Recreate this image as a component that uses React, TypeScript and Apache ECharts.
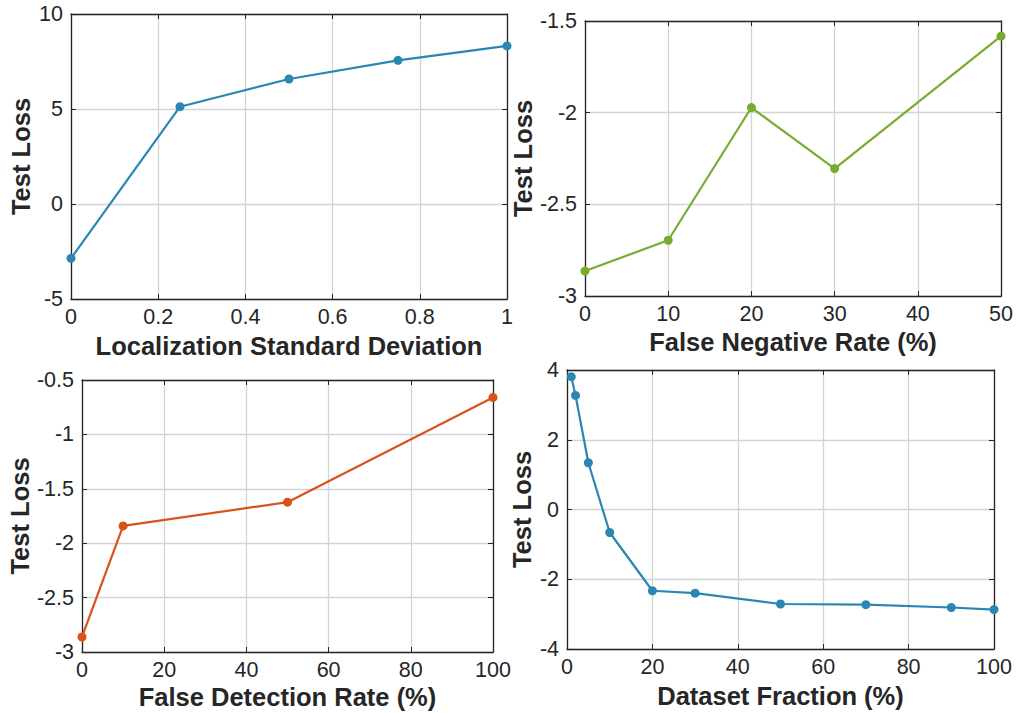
import React, { useEffect, useRef } from "react";
import * as echarts from "echarts";

// Panel 1: Localization Standard Deviation
const locStd = [0, 0.25, 0.5, 0.75, 1];
const locLoss = [-2.86, 5.12, 6.58, 7.56, 8.32];

// Panel 2: False Negative Rate (%)
const fnRate = [0, 10, 20, 30, 50];
const fnLoss = [-2.864, -2.696, -1.972, -2.305, -1.583];

// Panel 3: False Detection Rate (%)
const fdRate = [0, 10, 50, 100];
const fdLoss = [-2.862, -1.841, -1.623, -0.66];

// Panel 4: Dataset Fraction (%)
const dsFrac = [1, 2, 5, 10, 20, 30, 50, 70, 90, 100];
const dsLoss = [3.81, 3.27, 1.34, -0.66, -2.33, -2.4, -2.71, -2.73, -2.81, -2.87];

const xTitles = [
  "Localization Standard Deviation",
  "False Negative Rate (%)",
  "False Detection Rate (%)",
  "Dataset Fraction (%)",
];
const yTitle = "Test Loss";

const xRanges = [
  { min: 0, max: 1, interval: 0.2 },
  { min: 0, max: 50, interval: 10 },
  { min: 0, max: 100, interval: 20 },
  { min: 0, max: 100, interval: 20 },
];
const yRanges = [
  { min: -5, max: 10, interval: 5 },
  { min: -3, max: -1.5, interval: 0.5 },
  { min: -3, max: -0.5, interval: 0.5 },
  { min: -4, max: 4, interval: 2 },
];

const COLORS = ["#2a87b3", "#77ac30", "#d95319", "#2a87b3"];
const FONT = "'Liberation Sans', Arial, Helvetica, sans-serif";
const TEXT = "#262626";

export default function App() {
  const ref = useRef<HTMLDivElement>(null);
  useEffect(() => {
    if (!ref.current) return;
    const chart = echarts.init(ref.current, undefined, { renderer: "svg" });

    const grids = [
      { left: 71, top: 14, width: 436, height: 285 },
      { left: 585, top: 21, width: 417, height: 275 },
      { left: 82, top: 380, width: 411, height: 272 },
      { left: 567, top: 370, width: 427, height: 279 },
    ];
    const yGaps = [37, 48, 48, 32];
    const xGaps = [34, 33, 32, 34];
    const datasets = [
      [locStd, locLoss],
      [fnRate, fnLoss],
      [fdRate, fdLoss],
      [dsFrac, dsLoss],
    ];

    const xAxis: any[] = [];
    const yAxis: any[] = [];
    const series: any[] = [];

    grids.forEach((g, i) => {
      const baseLine = { show: true, onZero: false, lineStyle: { color: TEXT, width: 1.3 } };
      const tick = { show: true, inside: true, length: 5, lineStyle: { color: TEXT } };
      const split = { show: true, lineStyle: { color: "#d4d4d4", width: 1.3 } };
      xAxis.push({
        type: "value",
        gridIndex: i,
        position: "bottom",
        ...xRanges[i],
        name: xTitles[i],
        nameLocation: "middle",
        nameGap: xGaps[i],
        nameTextStyle: { fontFamily: FONT, fontSize: 25.5, fontWeight: "bold", color: TEXT },
        axisLine: baseLine,
        axisTick: tick,
        axisLabel: { fontFamily: FONT, fontSize: 21.5, color: TEXT, margin: 7 },
        splitLine: split,
      });
      xAxis.push({
        type: "value",
        gridIndex: i,
        position: "top",
        ...xRanges[i],
        axisLine: baseLine,
        axisTick: tick,
        axisLabel: { show: false },
        splitLine: { show: false },
      });
      yAxis.push({
        type: "value",
        gridIndex: i,
        position: "left",
        ...yRanges[i],
        name: yTitle,
        nameLocation: "middle",
        nameGap: yGaps[i],
        nameRotate: 90,
        nameTextStyle: { fontFamily: FONT, fontSize: 25.5, fontWeight: "bold", color: TEXT },
        axisLine: baseLine,
        axisTick: tick,
        axisLabel: { fontFamily: FONT, fontSize: 21.5, color: TEXT, margin: 8 },
        splitLine: split,
      });
      yAxis.push({
        type: "value",
        gridIndex: i,
        position: "right",
        ...yRanges[i],
        axisLine: baseLine,
        axisTick: tick,
        axisLabel: { show: false },
        splitLine: { show: false },
      });
      const [xs, ys] = datasets[i];
      series.push({
        type: "line",
        xAxisIndex: i * 2,
        yAxisIndex: i * 2,
        data: xs.map((x, k) => [x, ys[k]]),
        symbol: "circle",
        symbolSize: 9,
        lineStyle: { color: COLORS[i], width: 2.2 },
        itemStyle: { color: COLORS[i] },
        clip: false,
      });
    });

    chart.setOption({
      animation: false,
      backgroundColor: "#ffffff",
      grid: grids.map((g) => ({ ...g, containLabel: false })),
      xAxis,
      yAxis,
      series,
    });
    return () => chart.dispose();
  }, []);
  return (
    <div
      ref={ref}
      style={{ position: "fixed", left: 0, top: 0, width: 1016, height: 713 }}
    />
  );
}
